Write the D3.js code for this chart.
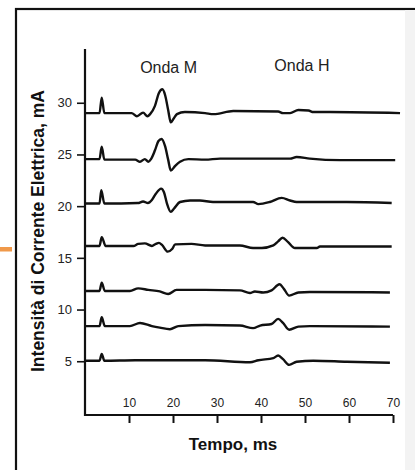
<!DOCTYPE html>
<html>
<head>
<meta charset="utf-8">
<script src="https://cdn.jsdelivr.net/npm/d3@7"></script>
<style>
  body { margin: 0; background: #fff; }
  svg { display: block; }
</style>
</head>
<body>
<div id="chart"></div>
<script>
// Data: time (ms) and current (mA)
// ==============================
let xTicks = [10, 20, 30, 40, 50, 60, 70];
let yTicks = [5, 10, 15, 20, 25, 30];
let waveLabels = ["Onda M", "Onda H"];

let trace30 = [[0, 29.0], [3.3, 29.0], [3.8, 30.5], [4.4, 29.0], [10.6, 29.0], [11.8, 28.7], [13.2, 29.05],
  [14.2, 28.7], [14.8, 28.9], [15.9, 29.7], [16.8, 30.95], [17.6, 31.3], [18.2, 30.75], [18.9, 29.3],
  [19.5, 28.1], [20.2, 28.5], [20.9, 28.9], [22.7, 29.1], [27.3, 29.0], [29.2, 28.9], [33.7, 29.2],
  [43.9, 29.15], [45.0, 29.0], [46.6, 29.0], [48.5, 29.3], [50.8, 29.25], [51.9, 29.1], [55.7, 29.1], [71.6, 29.0]];

let trace25 = [[0, 24.55], [3.3, 24.55], [3.8, 25.75], [4.4, 24.5], [11.4, 24.5], [12.5, 24.3], [13.6, 24.55],
  [14.4, 24.3], [15.0, 24.55], [15.9, 25.4], [16.7, 26.3], [17.4, 26.5], [18.2, 25.8], [18.9, 24.5],
  [19.5, 23.45], [20.5, 23.9], [21.6, 24.3], [23.5, 24.55], [27.3, 24.5], [30.7, 24.6], [46.6, 24.6],
  [48.1, 24.75], [51.1, 24.6], [58.0, 24.45], [70.5, 24.45]];

let trace20 = [[0, 20.25], [3.3, 20.25], [3.7, 21.55], [4.4, 20.25], [12.0, 20.3], [13.2, 20.45], [14.3, 20.3],
  [15.2, 20.6], [16.1, 21.2], [17.3, 21.7], [17.95, 21.35], [18.6, 20.3], [19.5, 19.45], [20.2, 19.75],
  [21.6, 20.4], [23.9, 20.55], [26.1, 20.55], [29.1, 20.4], [38.2, 20.4], [39.4, 20.2], [42.0, 20.4],
  [44.7, 20.8], [46.6, 20.55], [48.1, 20.4], [59.5, 20.4], [69.7, 20.3]];

let trace15 = [[0, 16.15], [3.3, 16.15], [3.8, 17.0], [4.7, 16.15], [11.0, 16.15], [12.1, 16.35], [13.6, 16.4],
  [15.2, 16.15], [16.1, 16.35], [16.8, 16.45], [17.5, 16.25], [18.8, 15.6], [19.8, 15.85], [20.5, 16.3],
  [24.2, 16.35], [27.3, 16.2], [35.2, 16.2], [38.2, 15.95], [40.2, 15.95], [42.8, 16.2], [43.9, 16.6],
  [44.9, 16.95], [46.1, 16.55], [47.7, 15.95], [52.7, 15.95], [53.4, 16.1], [69.7, 16.1]];

let trace12 = [[0, 11.8], [3.3, 11.8], [3.8, 12.6], [4.5, 11.8], [10.2, 11.8], [12.1, 12.05], [14.4, 11.9],
  [17.0, 11.75], [18.9, 11.5], [20.8, 11.9], [27.3, 11.9], [35.2, 11.85], [37.5, 11.6], [38.6, 11.75],
  [40.5, 11.65], [42.4, 11.85], [44.2, 12.45], [45.2, 12.0], [46.4, 11.35], [48.5, 11.65], [51.1, 11.7], [69.3, 11.65]];

let trace8 = [[0, 8.4], [3.3, 8.4], [3.8, 9.25], [4.5, 8.4], [10.2, 8.4], [12.5, 8.7], [15.2, 8.4],
  [17.0, 8.25], [19.3, 8.1], [21.2, 8.4], [27.3, 8.5], [35.2, 8.45], [38.2, 8.2], [39.8, 8.45],
  [42.4, 8.6], [43.9, 9.1], [45.0, 8.7], [46.4, 8.05], [48.5, 8.35], [51.1, 8.4], [69.3, 8.35]];

let trace5 = [[0, 5.05], [3.3, 5.05], [3.8, 5.7], [4.4, 5.05], [11.4, 5.1], [27.3, 5.1], [37.5, 4.9],
  [39.4, 5.1], [42.8, 5.3], [43.9, 5.55], [45.0, 5.2], [46.4, 4.65], [48.1, 4.95], [51.9, 5.05],
  [59.5, 4.95], [69.3, 4.85]];

let traces = [trace30, trace25, trace20, trace15, trace12, trace8, trace5];

// SVG wrapper
// ==============================
let svgWidth = 415;
let svgHeight = 470;

let svg = d3.select("#chart")
  .append("svg")
  .attr("width", svgWidth)
  .attr("height", svgHeight);

// outer frame of the figure and the orange mark on the left
svg.append("rect")
  .attr("x", 16).attr("y", 9)
  .attr("width", 440).attr("height", 500)
  .attr("fill", "#fff")
  .attr("stroke", "#111")
  .attr("stroke-width", 2.2);

svg.append("rect")
  .attr("x", 405).attr("y", 10)
  .attr("width", 10).attr("height", 460)
  .attr("fill", "#f3f3f3");

svg.append("rect")
  .attr("x", 0).attr("y", 247)
  .attr("width", 12).attr("height", 4.5)
  .attr("fill", "#f0994a");

// Scales
// ==============================
let xScale = d3.scaleLinear()
  .domain([0, 70])
  .range([85, 393]);

let yScale = d3.scaleLinear()
  .domain([-0.2, 35.2])
  .range([415, 49]);

let font = "'Liberation Sans', Arial, sans-serif";

// Axes
// ==============================
let bottomAxis = d3.axisBottom(xScale).tickValues(xTicks).tickSize(8).tickFormat(d3.format("d"));
let leftAxis = d3.axisLeft(yScale).tickValues(yTicks).tickSize(8).tickFormat(d3.format("d"));

let xAxisG = svg.append("g")
  .attr("transform", `translate(0, ${yScale.range()[0]})`)
  .call(bottomAxis);

xAxisG.select(".domain").remove();
xAxisG.append("line")
  .attr("x1", xScale(0)).attr("x2", xScale(70))
  .attr("stroke", "#111").attr("stroke-width", 2.2);
xAxisG.selectAll(".tick line").attr("stroke", "#111").attr("stroke-width", 2);
xAxisG.selectAll(".tick text")
  .attr("y", -8)
  .attr("dy", 0)
  .attr("fill", "#222")
  .style("font", `12px ${font}`);

let yAxisG = svg.append("g")
  .attr("transform", `translate(${xScale(0)}, 0)`)
  .call(leftAxis);

yAxisG.select(".domain").remove();
yAxisG.append("line")
  .attr("y1", yScale.range()[1]).attr("y2", yScale.range()[0] + 1)
  .attr("stroke", "#111").attr("stroke-width", 2.2);
yAxisG.selectAll(".tick line").attr("stroke", "#111").attr("stroke-width", 1.6);
yAxisG.selectAll(".tick text")
  .attr("x", -13)
  .attr("fill", "#222")
  .style("font", `13px ${font}`);

// Traces
// ==============================
let line = d3.line()
  .x(d => xScale(d[0]))
  .y(d => yScale(d[1]))
  .curve(d3.curveMonotoneX);

svg.append("g")
  .selectAll("path")
  .data(traces)
  .enter()
  .append("path")
  .attr("d", line)
  .attr("fill", "none")
  .attr("stroke", "#111")
  .attr("stroke-width", 2.4)
  .attr("stroke-linejoin", "round");

// Wave labels
svg.append("text")
  .attr("x", xScale(19.0))
  .attr("y", 73)
  .attr("text-anchor", "middle")
  .attr("fill", "#222")
  .style("font", `16px ${font}`)
  .text(waveLabels[0]);

svg.append("text")
  .attr("x", xScale(49.3))
  .attr("y", 71)
  .attr("text-anchor", "middle")
  .attr("fill", "#222")
  .style("font", `16px ${font}`)
  .text(waveLabels[1]);

// Axis titles
svg.append("text")
  .attr("transform", `translate(44, 231) rotate(-90)`)
  .attr("text-anchor", "middle")
  .attr("fill", "#111")
  .style("font", `bold 17.5px ${font}`)
  .text("Intensità di Corrente Elettrica, mA");

svg.append("text")
  .attr("x", 233)
  .attr("y", 450)
  .attr("text-anchor", "middle")
  .attr("fill", "#111")
  .style("font", `bold 17px ${font}`)
  .text("Tempo, ms");
</script>
</body>
</html>
